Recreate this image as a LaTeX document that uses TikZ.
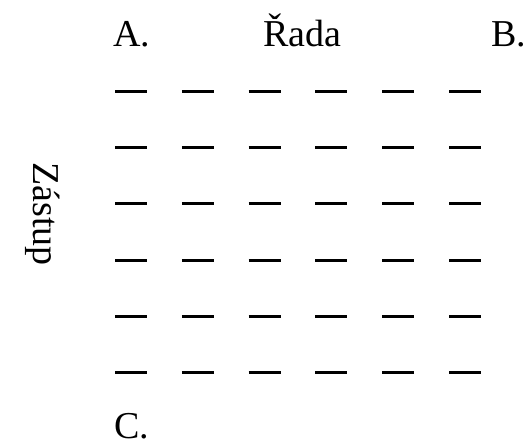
\documentclass[tikz,border=0pt]{standalone}
\usepackage{fontspec}
\setmainfont{Liberation Serif}
\begin{document}
\begin{tikzpicture}[x=1pt,y=1pt,
  lbl/.style={inner sep=0pt,anchor=base west,font=\fontsize{38}{40}\selectfont},
  dashline/.style={line width=3pt}]
\useasboundingbox (0,0) rectangle (527,445);
\node[lbl] (a) at (113,398) {A.};
\node[lbl] (rada) at (263,398) {Řada};
\node[lbl] (b) at (491,398) {B.};
\node[lbl] (c) at (114,7) {C.};
\node[lbl,rotate=-90] (zastup) at (33,283) {Zástup};
\foreach \i in {0,...,5}{
  \foreach \j in {0,...,5}{
    \draw[dashline] ({115+66.8*\i},{445-92-56*\j}) -- ++(32,0);
  }
}
\end{tikzpicture}
\end{document}
